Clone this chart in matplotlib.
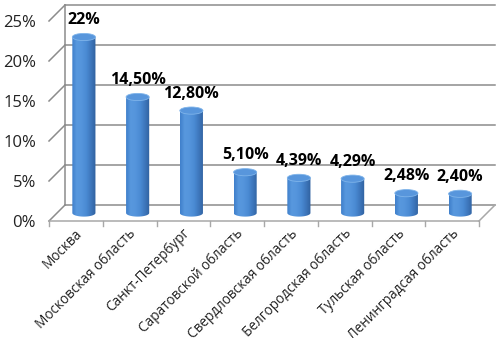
import numpy as np
import matplotlib
matplotlib.use("Agg")
import matplotlib.pyplot as plt
from matplotlib.patches import Polygon, Ellipse
from matplotlib.colors import LinearSegmentedColormap

# data
regions = ["Москва", "Московская область", "Санкт-Петербург", "Саратовской область",
           "Свердловская область", "Белгородская область", "Тульская область",
           "Ленинградсая область"]
shares = [22, 14.5, 12.8, 5.1, 4.39, 4.29, 2.48, 2.40]
share_labels = ["22%", "14,50%", "12,80%", "5,10%", "4,39%", "4,29%", "2,48%", "2,40%"]
y_ticks = [0, 5, 10, 15, 20, 25]
y_tick_labels = ["0%", "5%", "10%", "15%", "20%", "25%"]

plt.rcParams["font.family"] = ["Open Sans", "DejaVu Sans"]

# 3d look: depth offset of back wall in data units
DX, DY = 0.298, 2.0
BAR_W, ELL_H = 0.43, 0.9
GRID = "#8c8c8c"
FLOOR = "#a8a8a8"

fig = plt.figure(figsize=(5.04, 3.38), dpi=100)
ax = fig.add_axes([0, 0, 1, 1])
ax.axis("off")
n = len(regions)

# back wall gridlines + left wall
for t in y_ticks:
    ax.plot([DX, n + DX], [t + DY, t + DY], color=GRID, lw=1.1, zorder=1)
    ax.plot([0, DX], [t, t + DY], color=GRID, lw=1.1, zorder=1)
ax.plot([DX, DX], [DY, y_ticks[-1] + DY], color=GRID, lw=1.1, zorder=1)

# floor
ax.plot([0, n], [0, 0], color=FLOOR, lw=1.1, zorder=1)
ax.plot([n, n + DX], [0, DY], color=FLOOR, lw=1.1, zorder=1)
for i in range(n + 1):
    ax.plot([i, i], [0, -0.6], color=FLOOR, lw=1.0, zorder=1)

cmap = LinearSegmentedColormap.from_list(
    "cyl", ["#3f7fca", "#5898de", "#5595dc", "#4a8ad3", "#3d76bb", "#2f609e"])
grad = np.linspace(0, 1, 256).reshape(1, -1)

for i, (v, lab) in enumerate(zip(shares, share_labels)):
    xc = i + 0.5 + DX / 2
    yb = DY / 2
    yt = v + DY / 2
    x0, x1 = xc - BAR_W / 2, xc + BAR_W / 2
    ang = np.linspace(np.pi, 2 * np.pi, 40)
    ex = xc + BAR_W / 2 * np.cos(ang)
    ey = yb + ELL_H / 2 * np.sin(ang)
    pts = np.column_stack([np.r_[ex, x1, x0], np.r_[ey, yt, yt]])
    body = Polygon(pts, closed=True, facecolor="none", edgecolor="none",
                   transform=ax.transData)
    ax.add_patch(body)
    im = ax.imshow(grad, cmap=cmap, aspect="auto", zorder=3,
                   extent=[x0, x1, yb - ELL_H / 2, yt], interpolation="bilinear")
    im.set_clip_path(body)
    ax.add_patch(Ellipse((xc, yt), BAR_W, ELL_H, facecolor="#5896dc",
                         edgecolor="#7fb4ea", lw=0.6, zorder=4))
    ax.text(xc, yt + 2.1, lab, ha="center", va="center", fontsize=11.5,
            fontweight="bold", color="black", zorder=5)

for t, lab in zip(y_ticks, y_tick_labels):
    ax.text(-0.24, t - 0.2, lab, ha="right", va="center", fontsize=12, color="#222222")

for i, lab in enumerate(regions):
    ax.text(i + 0.58, -1.3, lab, ha="right", va="center", rotation=45,
            rotation_mode="anchor", fontsize=9.8, color="#222222")

ax.set_xlim(-0.9116, 8.465)
ax.set_ylim(-14.625, 27.625)

fig.savefig("out.png", dpi=100)
